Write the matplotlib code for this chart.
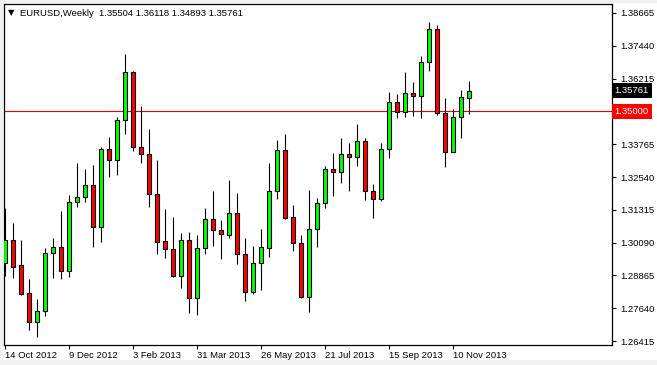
import matplotlib
matplotlib.use("Agg")
import matplotlib.pyplot as plt
from matplotlib.patches import Rectangle
from matplotlib.transforms import blended_transform_factory

# ---------------- data (weekly EURUSD candles) ----------------
opens = [1.29330, 1.30189, 1.29255, 1.28210, 1.27127, 1.27538, 1.29703, 1.29927, 1.29031, 1.31608,
         1.31794, 1.32243, 1.30674, 1.33587, 1.33176, 1.34670, 1.36462, 1.33661, 1.33400, 1.31906,
         1.30151, 1.29853, 1.28845, 1.30189, 1.28023, 1.29890, 1.30973, 1.30562, 1.30375, 1.31197,
         1.29666, 1.28247, 1.29330, 1.29890, 1.32018, 1.33549, 1.31048, 1.30077, 1.28060, 1.30600,
         1.31570, 1.32840, 1.32728, 1.33400, 1.33288, 1.33885, 1.32018, 1.31720, 1.33587, 1.35342,
         1.34968, 1.35678, 1.35566, 1.36835, 1.38068, 1.34931, 1.33475, 1.34782, 1.35504]
highs = [1.31384, 1.30824, 1.30189, 1.28733, 1.27986, 1.29890, 1.30263, 1.31272, 1.31869, 1.33064,
         1.32840, 1.32989, 1.33661, 1.34035, 1.34782, 1.37134, 1.36499, 1.35192, 1.34334, 1.33176,
         1.31346, 1.31048, 1.30450, 1.30488, 1.30375, 1.31384, 1.32018, 1.30936, 1.32429, 1.31944,
         1.30263, 1.29965, 1.30600, 1.33064, 1.33923, 1.34147, 1.31496, 1.30375, 1.32056, 1.31757,
         1.32952, 1.33437, 1.33997, 1.33811, 1.34520, 1.33997, 1.32280, 1.33811, 1.35715, 1.35640,
         1.36462, 1.36089, 1.37059, 1.38329, 1.38217, 1.35491, 1.35080, 1.35790, 1.36118]
lows = [1.28845, 1.28770, 1.28135, 1.26828, 1.26567, 1.27351, 1.28770, 1.28733, 1.28807, 1.31421,
        1.31608, 1.29927, 1.30114, 1.32541, 1.32616, 1.34147, 1.33512, 1.33064, 1.31421, 1.29666,
        1.29517, 1.28800, 1.28397, 1.27463, 1.27388, 1.29666, 1.29965, 1.29479, 1.30263, 1.29293,
        1.27911, 1.28172, 1.28322, 1.29554, 1.31720, 1.30973, 1.29778, 1.28023, 1.27500, 1.29927,
        1.31384, 1.31832, 1.32317, 1.32018, 1.32952, 1.31682, 1.31010, 1.31645, 1.33251, 1.34744,
        1.34782, 1.34819, 1.34744, 1.36499, 1.34856, 1.32915, 1.33460, 1.33997, 1.34893]
closes = [1.30189, 1.29181, 1.28172, 1.27127, 1.27538, 1.29703, 1.29927, 1.29031, 1.31608, 1.31794,
          1.32243, 1.30674, 1.33587, 1.33176, 1.34670, 1.36462, 1.33661, 1.33400, 1.31906, 1.30114,
          1.29853, 1.28845, 1.30189, 1.28023, 1.29890, 1.30973, 1.30562, 1.30413, 1.31197, 1.29666,
          1.28247, 1.29330, 1.29927, 1.32018, 1.33549, 1.31010, 1.30077, 1.28060, 1.30600, 1.31570,
          1.32840, 1.32728, 1.33400, 1.33288, 1.33885, 1.32018, 1.31720, 1.33587, 1.35342, 1.34968,
          1.35678, 1.35566, 1.36835, 1.38068, 1.34931, 1.33475, 1.34782, 1.35528, 1.35761]

date_ticks = [0, 8, 16, 24, 32, 40, 48, 56]
date_labels = ["14 Oct 2012", "9 Dec 2012", "3 Feb 2013", "31 Mar 2013",
               "26 May 2013", "21 Jul 2013", "15 Sep 2013", "10 Nov 2013"]
price_ticks = [1.26415, 1.27640, 1.28865, 1.30090, 1.31315, 1.32540, 1.33765,
               1.36215, 1.37440, 1.38665]
level_line = 1.35000
last_price = 1.35761
title = "EURUSD,Weekly  1.35504 1.36118 1.34893 1.35761"

# ---------------- figure ----------------
W, H = 657, 365
fig = plt.figure(figsize=(W / 100, H / 100), dpi=100, facecolor="white")
FONT = "Liberation Sans"

# window frame (light grey borders)
fig.patches.append(Rectangle((0, 0), 1, 5 / H, transform=fig.transFigure, fc="#f0f0f0", ec="none"))
fig.patches.append(Rectangle((0, 0), 3 / W, 1, transform=fig.transFigure, fc="#f0f0f0", ec="none"))
fig.patches.append(Rectangle((0, 1 - 3 / H), 1, 3 / H, transform=fig.transFigure, fc="#f0f0f0", ec="none"))

ax_l, ax_r, ax_t, ax_b = 4, 612, 4, 345
ax = fig.add_axes([ax_l / W, (H - ax_b) / H, (ax_r - ax_l) / W, (ax_b - ax_t) / H])
ax.set_facecolor("white")

x = list(range(len(opens)))
ax.vlines(x, lows, highs, color="black", linewidth=0.8, zorder=2)
for i in x:
    o, c = opens[i], closes[i]
    up = c >= o
    bottom = min(o, c)
    height = max(abs(c - o), 0.00025)
    ax.bar(i, height, bottom=bottom, width=0.58,
           color="#00ff00" if up else "#ff0000",
           edgecolor="black", linewidth=0.8, zorder=3)

ax.axhline(level_line, color="#e00000", linewidth=0.8, zorder=1)

ax.set_xlim(-0.125, 75.875)
ax.set_ylim(1.26268, 1.39001)

for s in ax.spines.values():
    s.set_color("black")
    s.set_linewidth(0.9)

# x axis
ax.set_xticks(date_ticks)
ax.set_xticklabels(date_labels, fontsize=6.8, family=FONT, ha="left")
ax.tick_params(axis="x", direction="out", length=3, width=0.8, pad=1.5)

# y axis on the right
ax.yaxis.tick_right()
ax.set_yticks(price_ticks)
ax.set_yticklabels([f"{p:.5f}" for p in price_ticks], fontsize=6.8, family=FONT)
ax.tick_params(axis="y", direction="out", length=3, width=0.8, pad=3)
for lab in ax.get_xticklabels():
    lab.set_horizontalalignment("left")

trans = blended_transform_factory(ax.transAxes, ax.transData)
ax.text(1.0045, last_price, f"{last_price:.5f}", transform=trans, ha="left", va="center",
        fontsize=6.8, family=FONT, color="white", clip_on=False,
        bbox=dict(boxstyle="square,pad=0.32", fc="black", ec="none"))
ax.text(1.0045, level_line, f"{level_line:.5f}", transform=trans, ha="left", va="center",
        fontsize=6.8, family=FONT, color="white", clip_on=False,
        bbox=dict(boxstyle="square,pad=0.32", fc="#ff0000", ec="none"))

# title
ax.text((11 - ax_l) / (ax_r - ax_l), (ax_b - 13) / (ax_b - ax_t), "\u25BC", transform=ax.transAxes,
        ha="center", va="center", fontsize=6, family="DejaVu Sans", color="black")
ax.text((20 - ax_l) / (ax_r - ax_l), (ax_b - 13) / (ax_b - ax_t), title, transform=ax.transAxes,
        ha="left", va="center", fontsize=6.8, family=FONT, color="black")

fig.savefig("out.png", dpi=100, facecolor=fig.get_facecolor())
